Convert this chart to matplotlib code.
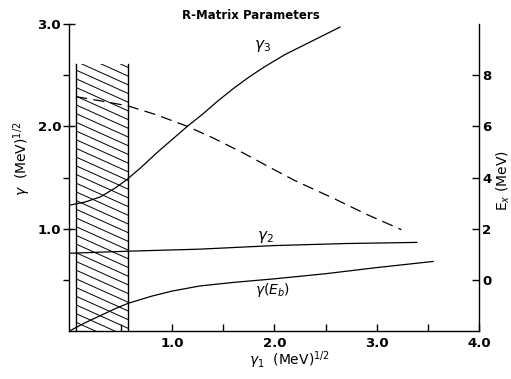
import numpy as np
import matplotlib
matplotlib.use("Agg")
import matplotlib.pyplot as plt
from matplotlib.patches import Rectangle

# gamma_3 vs gamma_1
g3_x = [0.0, 0.15, 0.3, 0.45, 0.56, 0.7, 0.85, 1.0, 1.15, 1.3, 1.45,
        1.6, 1.75, 1.9, 2.1, 2.3, 2.5, 2.64]
g3_y = [1.23, 1.26, 1.31, 1.40, 1.48, 1.60, 1.74, 1.87, 2.0, 2.12, 2.25,
        2.37, 2.48, 2.58, 2.70, 2.80, 2.90, 2.97]

# gamma_2 vs gamma_1
g2_x = [0.0, 0.57, 1.27, 2.0, 2.7, 3.39]
g2_y = [0.76, 0.78, 0.80, 0.835, 0.855, 0.866]

# gamma(E_b) vs gamma_1
gb_x = [0.0, 0.15, 0.3, 0.45, 0.57, 0.8, 1.0, 1.27, 1.6, 2.0, 2.5, 3.0, 3.55]
gb_y = [0.0, 0.08, 0.15, 0.22, 0.27, 0.34, 0.39, 0.44, 0.475, 0.51, 0.56,
        0.62, 0.68]

# E_x (right axis) vs gamma_1, dashed
ex_x = [0.064, 0.3, 0.57, 0.85, 1.15, 1.4, 1.7, 2.0, 2.2, 2.57, 2.9, 3.24]
ex_y = [7.16, 7.0, 6.8, 6.45, 6.0, 5.55, 4.95, 4.3, 3.88, 3.2, 2.56, 1.96]

# excluded (hatched) region
hatch_x0, hatch_x1, hatch_top = 0.064, 0.574, 2.61

fig = plt.figure(figsize=(5.11, 3.79), dpi=100)
ax = fig.add_axes([0.136, 0.1266, 0.802, 0.81])
ax.set_xlim(0, 4.0)
ax.set_ylim(0, 3.0)

lw = 0.9
ax.plot(g3_x, g3_y, color="black", lw=lw)
ax.plot(g2_x, g2_y, color="black", lw=lw)
ax.plot(gb_x, gb_y, color="black", lw=lw)

# hatched box, open on top
ax.plot([hatch_x0, hatch_x0], [0, hatch_top], color="black", lw=1.0)
ax.plot([hatch_x1, hatch_x1], [0, hatch_top], color="black", lw=1.0)
clip = Rectangle((hatch_x0, 0), hatch_x1 - hatch_x0, hatch_top,
                 transform=ax.transData, fill=False, lw=0)
ax.add_patch(clip)
slope = 0.45
xs = np.array([hatch_x0, hatch_x1])
for c in np.arange(0.0, 3.0, 0.085):
    ln, = ax.plot(xs, c - slope * (xs - hatch_x0), color="black", lw=0.7)
    ln.set_clip_path(clip)

ax.spines["top"].set_visible(False)
ax.spines["right"].set_visible(False)
for s in ["left", "bottom"]:
    ax.spines[s].set_linewidth(1.0)

ax.set_xticks([0.5, 1.0, 1.5, 2.0, 2.5, 3.0, 3.5, 4.0])
ax.set_xticklabels(["", "1.0", "", "2.0", "", "3.0", "", "4.0"])
ax.set_yticks([1.0, 2.0, 3.0])
ax.set_yticklabels(["1.0", "2.0", "3.0"])
ax.set_yticks([0.5, 1.5, 2.5], minor=True)
ax.tick_params(axis="x", direction="in", length=5, width=1, labelsize=9.5, pad=4)
ax.tick_params(axis="y", which="major", direction="inout", length=8, width=1,
               labelsize=9.5, pad=2)
ax.tick_params(axis="y", which="minor", direction="out", length=4, width=1)
for t in ax.get_xticklabels() + ax.get_yticklabels():
    t.set_fontweight("bold")

# right axis: E_x
ax2 = ax.twinx()
ax2.set_ylim(-2, 10)
ax2.plot(ex_x, ex_y, color="black", lw=lw, dashes=(9, 5))
ax2.spines["top"].set_visible(False)
ax2.spines["left"].set_visible(False)
ax2.spines["bottom"].set_visible(False)
ax2.spines["right"].set_linewidth(1.0)
ax2.set_yticks([0, 2, 4, 6, 8])
ax2.tick_params(axis="y", direction="in", length=5, width=1, labelsize=9.5, pad=2)
for t in ax2.get_yticklabels():
    t.set_fontweight("bold")

# curve labels
ax.text(1.88, 2.79, r"$\gamma_3$", fontsize=11, ha="center", va="center")
ax.text(1.91, 0.92, r"$\gamma_2$", fontsize=11, ha="center", va="center")
ax.text(1.98, 0.40, r"$\gamma(E_b)$", fontsize=10, ha="center", va="center")

fig.text(0.49, 0.96, "R-Matrix Parameters", fontsize=8.5, fontweight="bold",
         ha="center", va="center")
fig.text(0.043, 0.58, r"$\gamma$  (MeV)$^{1/2}$", rotation=90, fontsize=10,
         ha="center", va="center")
fig.text(0.567, 0.05, r"$\gamma_1$  (MeV)$^{1/2}$", fontsize=10,
         ha="center", va="center")
fig.text(0.985, 0.525, r"E$_x$ (MeV)", rotation=90, fontsize=10,
         ha="center", va="center")

fig.savefig("out.png", dpi=100)
